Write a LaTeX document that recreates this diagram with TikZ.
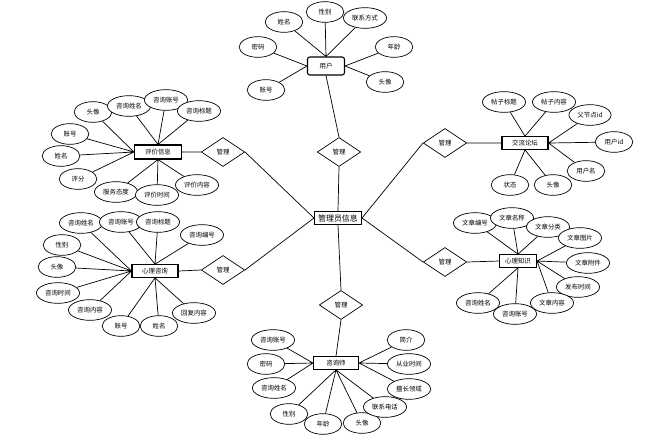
\documentclass[tikz,border=0pt]{standalone}
\usepackage{fontspec}
\newfontfamily\cjk{Noto Sans CJK SC}
\usetikzlibrary{shapes.geometric}
\tikzset{
  attr/.style={ellipse, draw, fill=white, minimum width=1.13cm, minimum height=0.62cm, inner xsep=2pt, inner ysep=0.5pt},
  ent/.style={draw, line width=0.9pt, fill=white, minimum height=0.38cm, inner sep=1pt},
  rel/.style={diamond, draw, fill=white, minimum width=1.3cm, minimum height=0.87cm, inner sep=0pt}
}

\begin{document}
\begin{tikzpicture}[x=0.03cm, y=-0.03cm, line width=0.6pt, font=\cjk\fontsize{5.5}{6.5}\selectfont]
    \useasboundingbox (0,0) rectangle (660,436);
    \node [ent, rounded corners=2pt, minimum width=1.11cm, minimum height=0.54cm] (user) at (326,66) {用户};
    \node [ent, minimum width=1.41cm, minimum height=0.42cm] (eval) at (158,152) {评价信息};
    \node [ent, minimum width=1.38cm] (consult) at (155,271) {心理咨询};
    \node [ent, minimum width=1.38cm] (forum) at (525,143) {交流论坛};
    \node [ent, minimum width=1.11cm] (know) at (518,261) {心理知识};
    \node [ent, minimum width=1.35cm] (teacher) at (336,363) {咨询师};
    \node [ent, minimum width=1.41cm, font=\cjk\fontsize{6.8}{8}\selectfont] (admin) at (338,218) {管理员信息};

    \node [rel] (mUser) at (339,152) {管理};
    \node [rel] (mEval) at (223,152) {管理};
    \node [rel] (mConsult) at (223,270) {管理};
    \node [rel] (mForum) at (445,143) {管理};
    \node [rel] (mKnow) at (445,262) {管理};
    \node [rel] (mTeacher) at (341,305) {管理};

    \draw (user.south) -- (mUser.north) (mUser.south) -- (admin.north);
    \draw (eval.east) -- (mEval.west) (mEval.east) -- (admin.west);
    \draw (consult.east) -- (mConsult.west) (mConsult.east) -- (admin.west);
    \draw (forum.west) -- (mForum.east) (mForum.west) -- (admin.east);
    \draw (know.west) -- (mKnow.east) (mKnow.west) -- (admin.east);
    \draw (admin.south) -- (mTeacher.north) (mTeacher.south) -- (teacher.north);

    \node [attr] (u1) at (325,12) {性别};
    \node [attr] (u2) at (284,22) {姓名};
    \node [attr] (u3) at (365,18) {联系方式};
    \node [attr] (u4) at (258,47) {密码};
    \node [attr] (u5) at (394,47) {年龄};
    \node [attr] (u6) at (266,90) {账号};
    \node [attr] (u7) at (385,82) {头像};
    \draw (user.north) -- (u1) (user.north) -- (u2) (user.north) -- (u3);
    \draw (user.west) -- (u4) (user.west) -- (u6);
    \draw (user.east) -- (u5) (user.east) -- (u7);

    \node [attr] (e1) at (93,112) {头像};
    \node [attr] (e2) at (129,106) {咨询姓名};
    \node [attr] (e3) at (166,100) {咨询账号};
    \node [attr] (e4) at (199,111) {咨询标题};
    \node [attr] (e5) at (70,134) {账号};
    \node [attr] (e6) at (61,156) {姓名};
    \node [attr] (e7) at (78,179) {评分};
    \node [attr] (e8) at (116,192) {服务态度};
    \node [attr] (e9) at (157,195) {评价时间};
    \node [attr] (e10) at (197,185) {评价内容};
    \draw (eval.north) -- (e2) (eval.north) -- (e3) (eval.north) -- (e4);
    \draw (eval.west) -- (e1) (eval.west) -- (e5) (eval.west) -- (e6) (eval.west) -- (e7);
    \draw (eval.south) -- (e8) (eval.south) -- (e9) (eval.south) -- (e10);

    \node [attr] (c1) at (81,223) {咨询姓名};
    \node [attr] (c2) at (121,222) {咨询账号};
    \node [attr] (c3) at (158,222) {咨询标题};
    \node [attr] (c4) at (202,235) {咨询编号};
    \node [attr] (c5) at (62,245) {性别};
    \node [attr] (c6) at (57,267) {头像};
    \node [attr] (c7) at (58,293) {咨询时间};
    \node [attr] (c8) at (90,310) {咨询内容};
    \node [attr] (c9) at (121,326) {账号};
    \node [attr] (c10) at (159,326) {姓名};
    \node [attr] (c11) at (194,313) {回复内容};
    \draw (consult.north) -- (c2) (consult.north) -- (c3) (consult.north) -- (c4);
    \draw (consult.west) -- (c1) (consult.west) -- (c5) (consult.west) -- (c6) (consult.west) -- (c7) (consult.west) -- (c8);
    \draw (consult.south) -- (c9) (consult.south) -- (c10) (consult.south) -- (c11);

    \node [attr] (f1) at (504,102) {帖子标题};
    \node [attr] (f2) at (554,102) {帖子内容};
    \node [attr] (f3) at (590,115) {父节点id};
    \node [attr] (f4) at (614,142) {用户id};
    \node [attr] (f5) at (586,171) {用户名};
    \node [attr] (f6) at (510,185) {状态};
    \node [attr] (f7) at (553,185) {头像};
    \draw (forum.north) -- (f1) (forum.north) -- (f2);
    \draw (forum.east) -- (f3) (forum.east) -- (f4) (forum.east) -- (f5);
    \draw (forum.south) -- (f6) (forum.south) -- (f7);

    \node [attr] (k1) at (475,223) {文章编号};
    \node [attr] (k2) at (512,218) {文章名称};
    \node [attr] (k3) at (548,227) {文章分类};
    \node [attr] (k4) at (580,238) {文章图片};
    \node [attr] (k5) at (588,263) {文章附件};
    \node [attr] (k6) at (578,287) {发布时间};
    \node [attr] (k7) at (552,303) {文章内容};
    \node [attr] (k8) at (478,303) {咨询姓名};
    \node [attr] (k9) at (515,314) {咨询账号};
    \draw (know.north) -- (k1) (know.north) -- (k2) (know.north) -- (k3);
    \draw (know.east) -- (k4) (know.east) -- (k5) (know.east) -- (k6) (know.east) -- (k7);
    \draw (know.south) -- (k8) (know.south) -- (k9);

    \node [attr] (t1) at (273,340) {咨询账号};
    \node [attr] (t2) at (266,364) {密码};
    \node [attr] (t3) at (274,388) {咨询姓名};
    \node [attr] (t4) at (289,414) {性别};
    \node [attr] (t5) at (323,424) {年龄};
    \node [attr] (t6) at (362,423) {头像};
    \node [attr] (t7) at (385,407) {联系电话};
    \node [attr] (t8) at (406,340) {简介};
    \node [attr] (t9) at (409,364) {从业时间};
    \node [attr] (t10) at (409,389) {擅长领域};
    \draw (teacher.west) -- (t1) (teacher.west) -- (t2) (teacher.west) -- (t3);
    \draw (teacher.south) -- (t4) (teacher.south) -- (t5) (teacher.south) -- (t6) (teacher.south) -- (t7);
    \draw (teacher.east) -- (t8) (teacher.east) -- (t9) (teacher.east) -- (t10);
\end{tikzpicture}
\end{document}
